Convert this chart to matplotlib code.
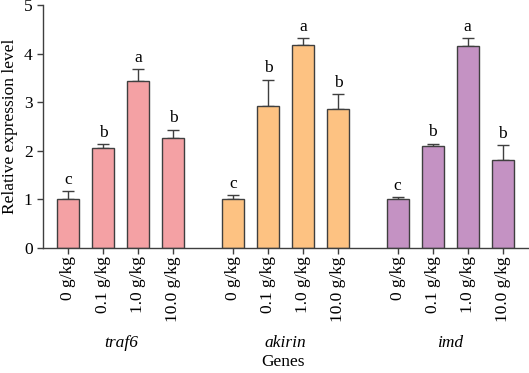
import numpy as np
import matplotlib.pyplot as plt

plt.rcParams['font.family'] = ['Liberation Serif', 'DejaVu Serif']

genes = ["traf6", "akirin", "imd"]
doses = ["0 g/kg", "0.1 g/kg", "1.0 g/kg", "10.0 g/kg"]
traf6_mean = [1.0, 2.06, 3.43, 2.27]
traf6_err = [0.17, 0.07, 0.25, 0.16]
akirin_mean = [1.0, 2.93, 4.18, 2.85]
akirin_err = [0.09, 0.53, 0.14, 0.32]
imd_mean = [1.0, 2.09, 4.15, 1.81]
imd_err = [0.04, 0.06, 0.17, 0.30]
traf6_sig = ["c", "b", "a", "b"]
akirin_sig = ["c", "b", "a", "b"]
imd_sig = ["c", "b", "a", "b"]
colors = ["#F4A1A4", "#FDC282", "#C492C3"]

means = [traf6_mean, akirin_mean, imd_mean]
errs = [traf6_err, akirin_err, imd_err]
sigs = [traf6_sig, akirin_sig, imd_sig]

fig = plt.figure(figsize=(5.29, 3.73), dpi=100)
ax = fig.add_axes([43/529, 1-248/373, 1-43/529, 243/373])

group_gap = 4.7
width = 0.63
xticks, xlabels = [], []
for g in range(3):
    x = np.arange(4) + g*group_gap
    ax.bar(x, means[g], width, color=colors[g], edgecolor="#3f3f3f", linewidth=1.0, zorder=2)
    ax.errorbar(x, means[g], yerr=[np.zeros(4), errs[g]], fmt="none", ecolor="#3f3f3f",
                elinewidth=1.0, capsize=4, capthick=1.0, zorder=1)
    for xi, m, e, s in zip(x, means[g], errs[g], sigs[g]):
        ax.text(xi, m + e + 0.07, s, ha="center", va="bottom", fontsize=12.5)
    xticks += list(x)
    xlabels += doses
    ax.text(x.mean(), -1.95, genes[g], ha="center", va="center", fontsize=12.5,
            style="italic", transform=ax.transData)

ax.set_xticks(xticks)
ax.set_xticklabels(xlabels, rotation=90)
ax.set_xlim(-0.72, 2*group_gap + 3 + 0.75)
ax.set_ylim(0, 5)
ax.set_yticks([0, 1, 2, 3, 4, 5])
ax.tick_params(axis="both", direction="out", length=4, width=1.0, labelsize=12.5, color="#3f3f3f")
ax.tick_params(axis="x", labelsize=12.5, pad=2)
for side in ["top", "right"]:
    ax.spines[side].set_visible(False)
for side in ["left", "bottom"]:
    ax.spines[side].set_linewidth(1.0)
    ax.spines[side].set_color("#3f3f3f")
ax.set_ylabel("Relative expression level", fontsize=12.5, labelpad=4)
fig.text(0.535, 1-362/373, "Genes", ha="center", va="center", fontsize=12.5)

fig.savefig("out.png", dpi=100)
